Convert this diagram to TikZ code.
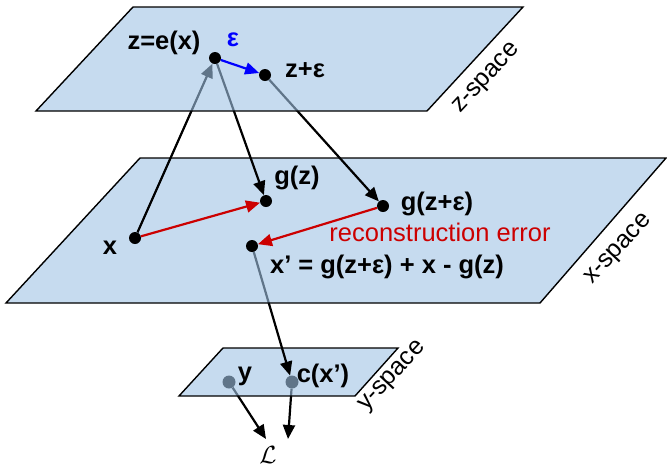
\documentclass[tikz,border=0pt]{standalone}
\usepackage{fontspec}
\setmainfont{Liberation Sans}
\usetikzlibrary{arrows.meta, positioning}
\definecolor{planeFill}{RGB}{160,195,229}
\definecolor{errRed}{RGB}{204,0,0}
\definecolor{noiseBlue}{RGB}{0,0,255}
\pgfdeclarelayer{ylow}
\pgfdeclarelayer{yplane}
\pgfdeclarelayer{xdrop}
\pgfdeclarelayer{xplane}
\pgfdeclarelayer{xmid}
\pgfdeclarelayer{zplane}
\pgfsetlayers{ylow,yplane,xdrop,xplane,xmid,zplane,main}
\tikzset{
  plane/.style={draw=black, line width=1.4pt, fill=planeFill, fill opacity=0.6},
  pt/.style={circle, fill=black, inner sep=0pt, minimum size=12pt},
  link/.style={line width=2.2pt, -{Triangle[length=14pt,width=12pt]}},
  lbl/.style={font=\fontsize{25.5}{30}\selectfont\bfseries, inner sep=0pt},
  spacelbl/.style={font=\fontsize{25}{30}\selectfont, rotate=47, inner sep=0pt},
}

\begin{document}
\begin{tikzpicture}[x=1pt, y=-1pt]
  \useasboundingbox (0,0) rectangle (667,464);

  % points
  \begin{pgfonlayer}{ylow}
    \node[pt, minimum size=13pt] (y) at (229,382) {};
    \node[pt, minimum size=13pt] (cx) at (292,382) {};
    \coordinate (lossl) at (266,439);
    \coordinate (lossr) at (288,439);
  \end{pgfonlayer}
  \begin{pgfonlayer}{xmid}
    \node[pt] (x) at (135,238) {};
    \node[pt] (gz) at (266,201) {};
    \node[pt] (gze) at (383,206) {};
    \node[pt] (xp) at (252,246) {};
  \end{pgfonlayer}
  \node[pt] (z) at (215,58) {};
  \node[pt] (ze) at (265,75) {};

  % planes
  \begin{pgfonlayer}{yplane}
    \draw[plane] (223,348) -- (398,348) -- (355,396) -- (179,396) -- cycle;
  \end{pgfonlayer}
  \begin{pgfonlayer}{xplane}
    \draw[plane] (140,158) -- (666,158) -- (540,303) -- (6,303) -- cycle;
  \end{pgfonlayer}
  \begin{pgfonlayer}{zplane}
    \draw[plane] (133,7) -- (523,7) -- (427,111) -- (36,111) -- cycle;
  \end{pgfonlayer}

  % arrows
  \begin{pgfonlayer}{ylow}
    \draw[link] (y) -- (lossl);
    \draw[link] (cx) -- (lossr);
  \end{pgfonlayer}
  \begin{pgfonlayer}{xdrop}
    \draw[link] (xp) -- (cx);
  \end{pgfonlayer}
  \begin{pgfonlayer}{xmid}
    \draw[link, errRed] (x) -- (gz);
    \draw[link, errRed] (gze) -- (xp);
    \draw[link] (x) -- (z);
    \draw[link] (z) -- (gz);
    \draw[link] (ze) -- (gze);
  \end{pgfonlayer}
  \draw[link, noiseBlue] (z) -- (ze);

  % labels
  \node[lbl] (zlbl) at (164,43) {z=e(x)};
  \node[lbl, text=noiseBlue] (epslbl) at (233,40) {ε};
  \node[lbl] (zelbl) at (305,70) {z+ε};
  \node[lbl] (gzlbl) at (297,178) {g(z)};
  \node[lbl] (gzelbl) at (437,204) {g(z+ε)};
  \node[lbl] (xlbl) at (110,248) {x};
  \node[lbl] (xplbl) at (387,267) {x’ = g(z+ε) + x - g(z)};
  \node[font=\fontsize{25.5}{30}\selectfont, text=errRed, inner sep=0pt] (errlbl) at (440,232) {reconstruction error};
  \node[lbl] (ylbl) at (245,376) {y};
  \node[lbl] (cxlbl) at (323,376) {c(x’)};
  \node[inner sep=0pt, font=\fontsize{26}{30}\selectfont] (loss) at (268,455) {$\mathcal{L}$};
  \node[spacelbl] (zspace) at (487,79) {z-space};
  \node[spacelbl] (xspace) at (619,250) {x-space};
  \node[spacelbl] (yspace) at (393,377) {y-space};
\end{tikzpicture}
\end{document}
